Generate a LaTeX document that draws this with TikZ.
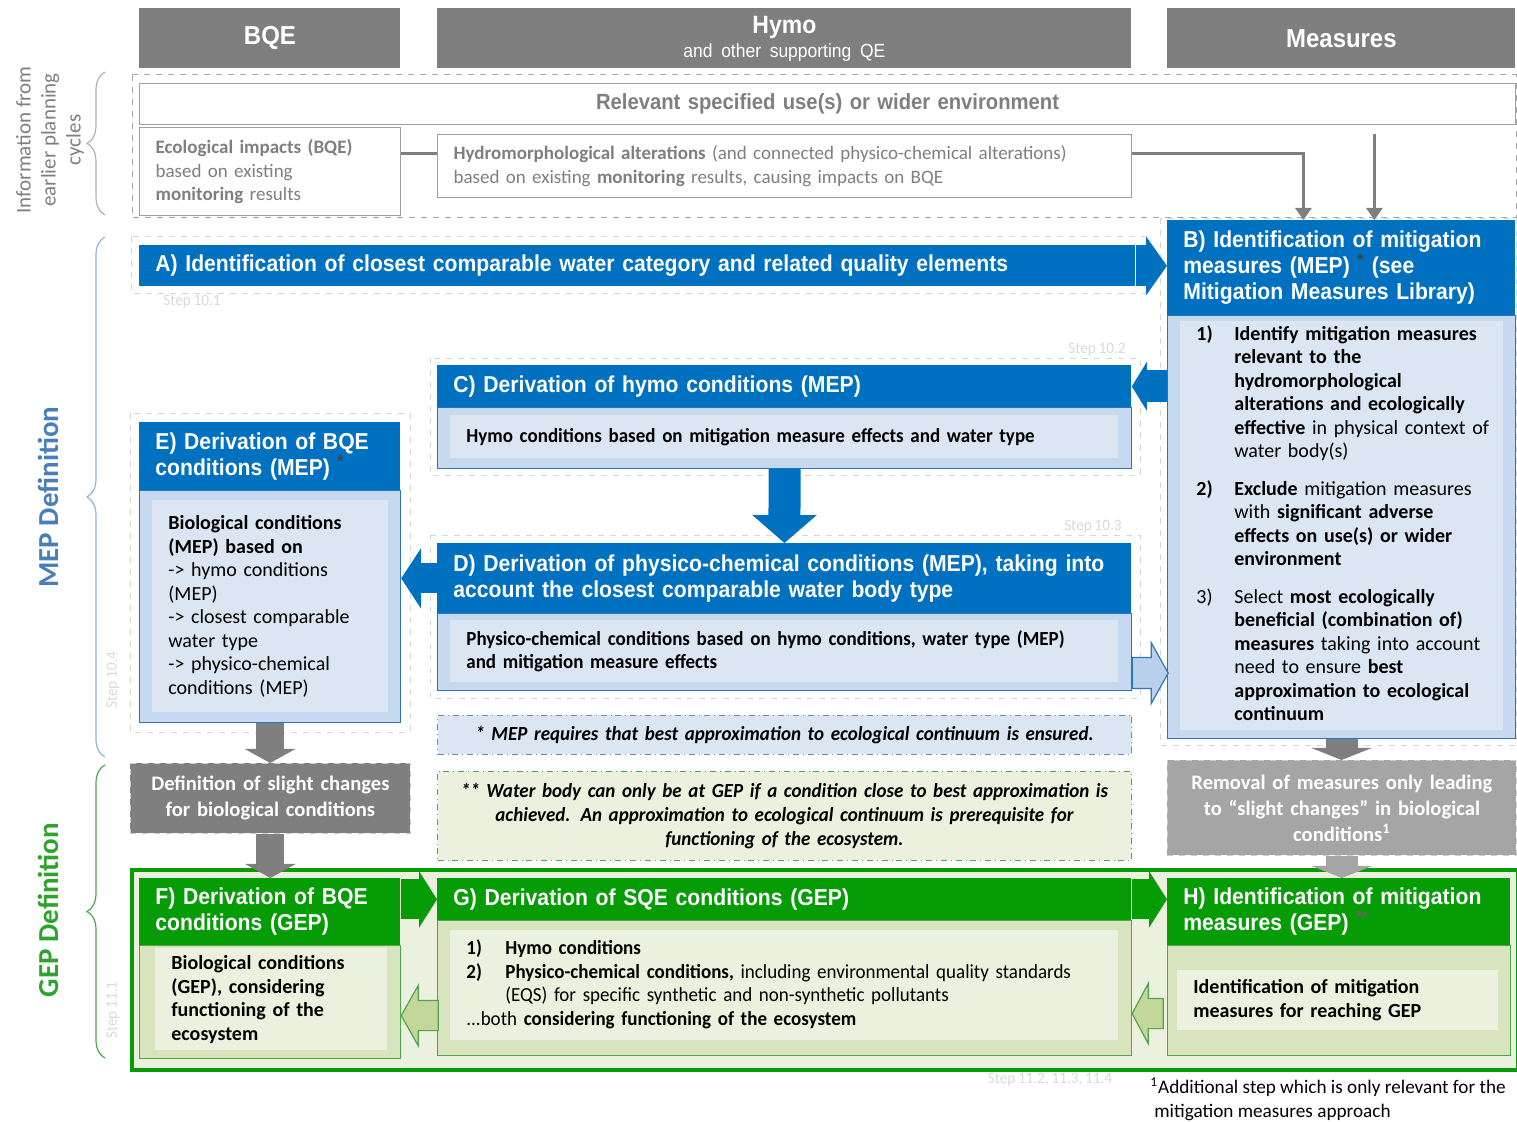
\documentclass[tikz,border=0pt]{standalone}
\usepackage{fontspec}
\setmainfont{Carlito}
\newfontfamily\hfont[FakeStretch=0.92,WordSpace=0.85]{Liberation Sans}
\newfontfamily\nfont[FakeStretch=0.95,WordSpace=0.8]{Carlito}
\usetikzlibrary{arrows.meta,decorations.pathreplacing}

\definecolor{hdrgray}{HTML}{7F7F7F}
\definecolor{remgray}{HTML}{A5A5A5}
\definecolor{mepblue}{HTML}{0070C0}
\definecolor{mepbody}{HTML}{C5D9F1}
\definecolor{mepinner}{HTML}{DCE6F2}
\definecolor{mepline}{HTML}{2E75B6}
\definecolor{meplabel}{HTML}{4A7EBB}
\definecolor{gepgreen}{HTML}{069C06}
\definecolor{gepbody}{HTML}{D7E4BD}
\definecolor{gepinner}{HTML}{EBF1DE}
\definecolor{gepline}{HTML}{4DA64D}
\definecolor{geplabel}{HTML}{2EA32E}
\definecolor{gephollow}{HTML}{C4D79B}
\definecolor{mephollow}{HTML}{B8D0EC}
\definecolor{faint}{HTML}{DDD6CF}
\definecolor{stepgray}{HTML}{D9D9D9}

\begin{document}
\begin{tikzpicture}[x=0.5pt, y=-0.5pt,
        rectxy/.style n args={4}{
            /utils/exec={\pgfmathsetlengthmacro\boxw{(#3-#1)*0.5pt}%
                \pgfmathsetlengthmacro\boxh{(#4-#2)*0.5pt}%
                \pgfmathsetlengthmacro\boxtw{(#3-#1)*0.5pt-16pt}},
            anchor=north west, at={(#1,#2)}, minimum width=\boxw, minimum height=\boxh,
            text width=\boxtw, inner xsep=8pt, inner ysep=0pt},
        colhead/.style={fill=hdrgray, text=white, align=center, font=\hfont\bfseries\fontsize{13}{15}\selectfont},
        infobox/.style={fill=white, draw=gray!75, line width=0.6pt, text=hdrgray, align=left, font=\fontsize{9.5}{11.75}\selectfont},
        meph/.style={fill=mepblue, text=white, align=left, font=\hfont\bfseries\fontsize{11.5}{13}\selectfont},
        mepb/.style={fill=mepbody, draw=mepline, line width=0.6pt},
        mepi/.style={fill=mepinner, text=black, align=left, font=\fontsize{10}{11.75}\selectfont},
        geph/.style={fill=gepgreen, text=white, align=left, font=\hfont\bfseries\fontsize{11.5}{13}\selectfont},
        gepb/.style={fill=gepbody, draw=gepline, line width=0.6pt},
        gepi/.style={fill=gepinner, text=black, align=left, font=\fontsize{10}{11.75}\selectfont},
        greybox/.style={draw=gray!40, dashed, text=white, align=center, font=\bfseries\fontsize{10.3}{13}\selectfont},
        notemep/.style={fill=mepinner, draw=mepline!80, dash dot, line width=0.5pt, align=center, font=\nfont\bfseries\itshape\fontsize{10}{12}\selectfont},
        notegep/.style={fill=gepinner, draw=gepline, dash dot, line width=0.5pt, align=center, font=\nfont\bfseries\itshape\fontsize{10}{12}\selectfont},
        faintbox/.style={draw=faint, dashed, line width=0.4pt},
        infodash/.style={draw=gray!70, dashed, line width=0.5pt},
        steplbl/.style={text=stepgray, font=\nfont\fontsize{8}{9}\selectfont, inner sep=0pt},
        greyline/.style={draw=hdrgray, line width=1.5pt},
        greyarrow/.style={draw=hdrgray, line width=1.5pt, -{Triangle[width=8pt,length=6pt]}},
        fat/.style n args={4}{draw=#1, line width=#2, -{Triangle[width=#3,length=#4]}},
        hollow/.style 2 args={fill=#1, draw=#2, line width=0.6pt},
        bracestyle/.style={decorate, decoration={brace, amplitude=9pt}, line width=0.6pt}
    ]
    \useasboundingbox (0,0) rectangle (1517,1122);

    % faint step regions
    \draw[faintbox] (131,236) rectangle (1146,293);
    \draw[faintbox] (1160,218) rectangle (1516,745);
    \draw[faintbox] (430,358) rectangle (1140,475);
    \draw[faintbox] (430,535) rectangle (1140,698);
    \draw[faintbox] (130,413) rectangle (410,732);
    \draw[infodash] (132,75) rectangle (1516,218);

    % column heads
    \node (bqe) [colhead, rectxy={139}{8}{400}{68}] {BQE};
    \node (hymo) [colhead, rectxy={437}{8}{1131}{68}] {{\fontsize{12.5}{12}\selectfont Hymo}\\[-3pt]{\mdseries\fontsize{9.5}{11}\selectfont and other supporting QE}};
    \node (measures) [colhead, rectxy={1167}{8}{1515}{68}] {Measures};

    % information from earlier planning cycles
    \node (uses) [infobox, rectxy={139}{83}{1515}{124}, align=center, font=\hfont\bfseries\fontsize{11}{13}\selectfont] {Relevant specified use(s) or wider environment};
    \node (eco) [infobox, rectxy={139}{127}{400}{215}] {\textbf{Ecological impacts (BQE)}\\based on existing\\\textbf{monitoring} results};
    \node (hydro) [infobox, rectxy={437}{134}{1131}{197}, font=\fontsize{9.5}{11.75}\selectfont] {\textbf{Hydromorphological alterations} (and connected physico-chemical alterations)\\based on existing \textbf{monitoring} results, causing impacts on BQE};

    % MEP definition
    \node (A) [meph, rectxy={139}{245}{1135}{286}] {A) Identification of closest comparable water category and related quality elements};

    \node (Bh) [meph, rectxy={1167}{220}{1515}{315}] {B) Identification of mitigation\\measures (MEP) \textsuperscript{\color{black!75}*} (see\\Mitigation Measures Library)};
    \node (Bb) [mepb, rectxy={1167}{315}{1515}{738}] {};
    \node (Bi) [mepi, rectxy={1180}{321}{1503}{730}] {%
        \begin{tabular}{@{}p{19pt}@{}l@{}}
            \textbf{1)} & \textbf{Identify mitigation measures}\\
                        & \textbf{relevant to the}\\
                        & \textbf{hydromorphological}\\
                        & \textbf{alterations and ecologically}\\
                        & \textbf{effective} in physical context of\\
                        & water body(s)\\[7pt]
            \textbf{2)} & \textbf{Exclude} mitigation measures\\
                        & with \textbf{significant adverse}\\
                        & \textbf{effects on use(s) or wider}\\
                        & \textbf{environment}\\[7pt]
            3)          & Select \textbf{most ecologically}\\
                        & \textbf{beneficial (combination of)}\\
                        & \textbf{measures} taking into account\\
                        & need to ensure \textbf{best}\\
                        & \textbf{approximation to ecological}\\
                        & \textbf{continuum}
        \end{tabular}};

    \node (Ch) [meph, rectxy={437}{365}{1131}{407}] {C) Derivation of hymo conditions (MEP)};
    \node (Cb) [mepb, rectxy={437}{407}{1131}{468}] {};
    \node (Ci) [mepi, rectxy={450}{415}{1118}{458}, font=\nfont\bfseries\fontsize{10}{11.75}\selectfont] {Hymo conditions based on mitigation measure effects and water type};

    \node (Dh) [meph, rectxy={437}{543}{1131}{613}] {D) Derivation of physico-chemical conditions (MEP), taking into\\account the closest comparable water body type};
    \node (Db) [mepb, rectxy={437}{613}{1131}{690}] {};
    \node (Di) [mepi, rectxy={450}{620}{1118}{682}, font=\nfont\bfseries\fontsize{10}{11.75}\selectfont] {Physico-chemical conditions based on hymo conditions, water type (MEP)\\and mitigation measure effects};

    \node (Eh) [meph, rectxy={139}{422}{400}{490}] {E) Derivation of BQE\\conditions (MEP) \textsuperscript{\color{black!75}*}};
    \node (Eb) [mepb, rectxy={139}{490}{400}{722}] {};
    \node (Ei) [mepi, rectxy={152}{500}{388}{712}] {\textbf{Biological conditions}\\\textbf{(MEP) based on}\\-> hymo conditions\\(MEP)\\-> closest comparable\\water type\\-> physico-chemical\\conditions (MEP)};

    \node (note1) [notemep, rectxy={437}{715}{1131}{754}] {* MEP requires that best approximation to ecological continuum is ensured.};

    % slight changes
    \node (slight) [greybox, fill=hdrgray, rectxy={130}{763}{410}{833}] {Definition of slight changes\\for biological conditions};
    \node (removal) [greybox, fill=remgray, rectxy={1167}{760}{1516}{855}] {Removal of measures only leading\\to “slight changes” in biological\\conditions\textsuperscript{1}};
    \node (note2) [notegep, rectxy={437}{771}{1131}{860}] {** Water body can only be at GEP if a condition close to best approximation is\\achieved. An approximation to ecological continuum is prerequisite for\\functioning of the ecosystem.};

    % GEP definition
    \node (gepzone) [draw=gepgreen, line width=2pt, fill=gepinner, rectxy={130}{868}{1516}{1068}] {};

    \node (Fh) [geph, rectxy={139}{878}{400}{945}] {F) Derivation of BQE\\conditions (GEP)};
    \node (Fb) [gepb, rectxy={139}{945}{400}{1058}] {};
    \node (Fi) [gepi, rectxy={155}{948}{387}{1050}, font=\bfseries\fontsize{10}{11.75}\selectfont] {Biological conditions\\(GEP), considering\\functioning of the\\ecosystem};

    \node (Gh) [geph, rectxy={437}{878}{1131}{920}] {G) Derivation of SQE conditions (GEP)};
    \node (Gb) [gepb, rectxy={437}{920}{1131}{1055}] {};
    \node (Gi) [gepi, rectxy={450}{930}{1118}{1040}, font=\nfont\fontsize{10}{11.85}\selectfont] {%
        \begin{tabular}{@{}p{19.5pt}@{}l@{}}
            \textbf{1)} & \textbf{Hymo conditions}\\
            \textbf{2)} & \textbf{Physico-chemical conditions,} including environmental quality standards\\
                        & (EQS) for specific synthetic and non-synthetic pollutants\\
            \multicolumn{2}{@{}l@{}}{...both \textbf{considering functioning of the ecosystem}}
        \end{tabular}};

    \node (Hh) [geph, rectxy={1167}{878}{1510}{945}] {H) Identification of mitigation\\measures (GEP) \textsuperscript{\color{black!60}**}};
    \node (Hb) [gepb, rectxy={1167}{945}{1510}{1055}] {};
    \node (Hi) [gepi, rectxy={1177}{970}{1498}{1030}, font=\bfseries\fontsize{10}{11.75}\selectfont] {Identification of mitigation\\measures for reaching GEP};

    % step labels
    \node (s101) [steplbl] at (192,302) {Step 10.1};
    \node (s102) [steplbl] at (1097,350) {Step 10.2};
    \node (s103) [steplbl] at (1093,527) {Step 10.3};
    \node (s104) [steplbl, rotate=90] at (113,680) {Step 10.4};
    \node (s111) [steplbl, rotate=90] at (113,1010) {Step 11.1};
    \node (s112) [steplbl] at (1050,1080) {Step 11.2, 11.3, 11.4};

    \node (foot) [anchor=north west, align=left, inner sep=0pt, font=\fontsize{9.6}{12}\selectfont] at (1150,1077) {\textsuperscript{1}Additional step which is only relevant for the\\\hspace{2pt}mitigation measures approach};

    % side labels and braces
    \node (infolbl) [rotate=90, align=center, text=hdrgray, font=\fontsize{10.5}{12.5}\selectfont] at (50,140) {Information from\\earlier planning\\cycles};
    \node (meplbl) [rotate=90, text=meplabel, font=\bfseries\fontsize{14.5}{16}\selectfont] at (48,497) {MEP Definition};
    \node (geplbl) [rotate=90, text=geplabel, font=\bfseries\fontsize{14.5}{16}\selectfont] at (48,910) {GEP Definition};
    \draw[bracestyle, draw=gray!60] (105,215) -- (105,72);
    \draw[bracestyle, draw=meplabel!60] (105,757) -- (105,237);
    \draw[bracestyle, draw=gepline] (105,1058) -- (105,765);

    % connectors
    \coordinate (feed) at (0,154);
    \coordinate (usesdrop) at ([xshift=16.5pt]Bh.north);
    \draw[greyline] (eco.east |- feed) -- (hydro.west |- feed);
    \draw[greyarrow] (hydro.east |- feed) -| ([xshift=-19pt]Bh.north);
    \draw[greyarrow, shorten <=4.5pt] (usesdrop |- uses.south) -- (usesdrop);

    \draw[fat={mepblue}{20.5pt}{29pt}{10.5pt}] (A.east) -- (A.east -| Bh.west);
    \draw[fat={mepblue}{16pt}{24pt}{7.5pt}] (Ch.east -| Bb.west) -- (Ch.east);
    \draw[fat={mepblue}{16pt}{31.5pt}{14pt}] (Cb.south) -- (Dh.north);
    \draw[fat={mepblue}{15pt}{30pt}{10pt}] (Dh.west) -- (Dh.west -| Eb.east);
    \draw[hollow={mephollow}{mepline}] (Db.east) ++(0,5.5) -- ++(19,0) -- ++(0,-15) -- ++(17,30.5) -- ++(-17,30.5) -- ++(0,-15) -- ++(-19,0) -- cycle;

    \draw[fat={hdrgray}{14pt}{25pt}{7pt}] (Eb.south) -- (Eb.south |- slight.north);
    \draw[fat={hdrgray}{14pt}{25pt}{7pt}] (slight.south) -- (slight.south |- Fh.north);
    \draw[fat={hdrgray}{16pt}{30pt}{6pt}] (Bb.south) -- (Bb.south |- removal.north);
    \draw[fat={remgray}{16pt}{30pt}{6pt}] (removal.south) -- (removal.south |- Hh.north);

    \draw[fat={gepgreen}{20pt}{28pt}{9pt}] (Fh.east |- Gh.west) -- (Gh.west);
    \draw[fat={gepgreen}{20pt}{28pt}{9pt}] (Gh.east) -- (Gh.east -| Hh.west);
    \draw[hollow={gephollow}{gepline}] (Gb.east) ++(0,25.5) -- ++(16,-30) -- ++(0,15) -- ++(15,0) -- ++(0,30) -- ++(-15,0) -- ++(0,15) -- cycle;
    \draw[hollow={gephollow}{gepline}] (Fb.east) ++(0,13.5) -- ++(17,-30) -- ++(0,15) -- ++(20,0) -- ++(0,30) -- ++(-20,0) -- ++(0,15) -- cycle;
\end{tikzpicture}
\end{document}
